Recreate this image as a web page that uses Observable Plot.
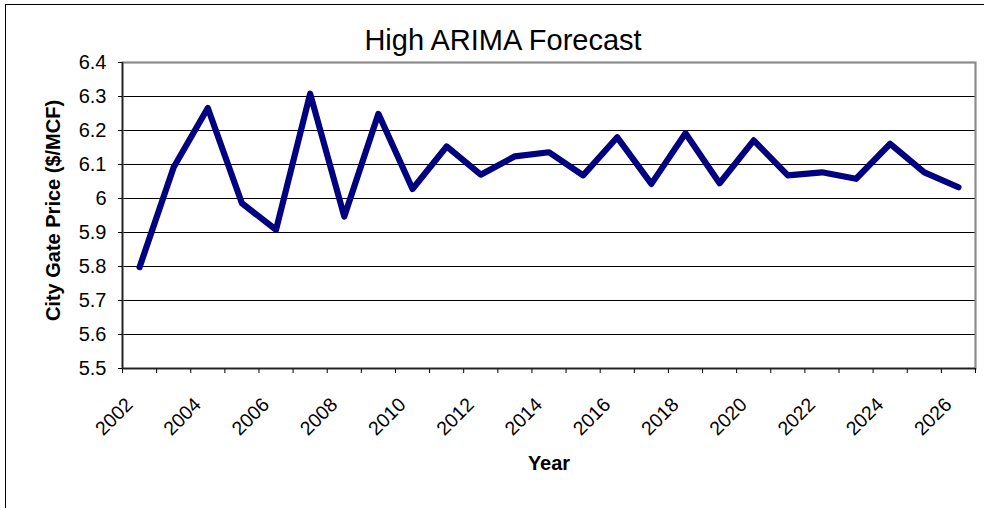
<!DOCTYPE html>
<html><head><meta charset="utf-8">
<script src="https://cdn.jsdelivr.net/npm/d3@7"></script>
<script src="https://cdn.jsdelivr.net/npm/@observablehq/plot@0.6"></script>
<style>
html,body{margin:0;padding:0;background:#fff;overflow:hidden;}
#wrap{position:relative;width:984px;height:508px;overflow:hidden;}
#border{position:absolute;left:5.25px;top:3.75px;width:1100px;height:600px;border:1.5px solid #000;box-sizing:border-box;pointer-events:none;}
</style></head><body><div id="wrap"></div>
<script>
const years = [2002,2003,2004,2005,2006,2007,2008,2009,2010,2011,2012,2013,2014,2015,2016,2017,2018,2019,2020,2021,2022,2023,2024,2025,2026];
const prices = [5.798,6.092,6.266,5.986,5.908,6.308,5.947,6.249,6.028,6.153,6.070,6.124,6.136,6.068,6.180,6.043,6.192,6.045,6.171,6.068,6.077,6.058,6.161,6.077,6.033];
const yTicks = [5.5,5.6,5.7,5.8,5.9,6,6.1,6.2,6.3,6.4];
const gridValues = [5.6,5.7,5.8,5.9,6,6.1,6.2,6.3];
const xLabelYears = [2002,2004,2006,2008,2010,2012,2014,2016,2018,2020,2022,2024,2026];
const xBoundaries = years.map(y => y - 0.5).concat([years[years.length-1] + 0.5]);
const titleText = "High ARIMA Forecast";
const yLabelText = "City Gate Price ($/MCF)";
const xLabelText = "Year";

const data = years.map((y, i) => ({year: y, price: prices[i]}));
const font = "'Liberation Sans', Arial, Helvetica, sans-serif";

const chart = Plot.plot({
  width: 984, height: 508,
  marginLeft: 122, marginRight: 9, marginTop: 62, marginBottom: 140,
  style: {fontFamily: font, background: "white", color: "#000", overflow: "visible"},
  x: {domain: [xBoundaries[0], xBoundaries[xBoundaries.length-1]]},
  y: {domain: [yTicks[0], yTicks[yTicks.length-1]]},
  marks: [
    Plot.ruleY(gridValues, {stroke: "#000", strokeWidth: 1}),
    Plot.frame({stroke: "#8c8c8c", strokeWidth: 2.2}),
    Plot.axisY({ticks: yTicks, tickSize: 4, tickPadding: 12, tickFormat: d => String(d), fontSize: 20, label: null, stroke: "#000"}),
    Plot.axisX({ticks: xBoundaries, tickSize: 5, tickFormat: () => "", label: null, stroke: "#000"}),
    Plot.axisX({ticks: xLabelYears, tickSize: 0, tickRotate: -45, tickPadding: 33, dx: -10, tickFormat: d => String(d), fontSize: 19.5, label: null}),
    Plot.ruleX([xBoundaries[0]], {stroke: "#222", strokeWidth: 1.5}),
    Plot.ruleY([yTicks[0]], {stroke: "#222", strokeWidth: 1.5}),
    Plot.line(data, {x: "year", y: "price", stroke: "#000080", strokeWidth: 6.2, strokeLinejoin: "round", strokeLinecap: "round"}),
    Plot.text([titleText], {text: d => d, frameAnchor: "top", dx: -46, dy: -12.7, lineAnchor: "bottom", fontSize: 29}),
    Plot.text([yLabelText], {text: d => d, frameAnchor: "left", rotate: -90, dx: -69, dy: -5, fontWeight: "bold", fontSize: 20, textAnchor: "middle", lineAnchor: "middle"}),
    Plot.text([xLabelText], {text: d => d, frameAnchor: "bottom", dy: 101, lineAnchor: "bottom", fontWeight: "bold", fontSize: 20})
  ]
});
const wrap = document.getElementById("wrap");
wrap.appendChild(chart);
const b = document.createElement("div");
b.id = "border";
wrap.appendChild(b);
</script>
</body></html>
